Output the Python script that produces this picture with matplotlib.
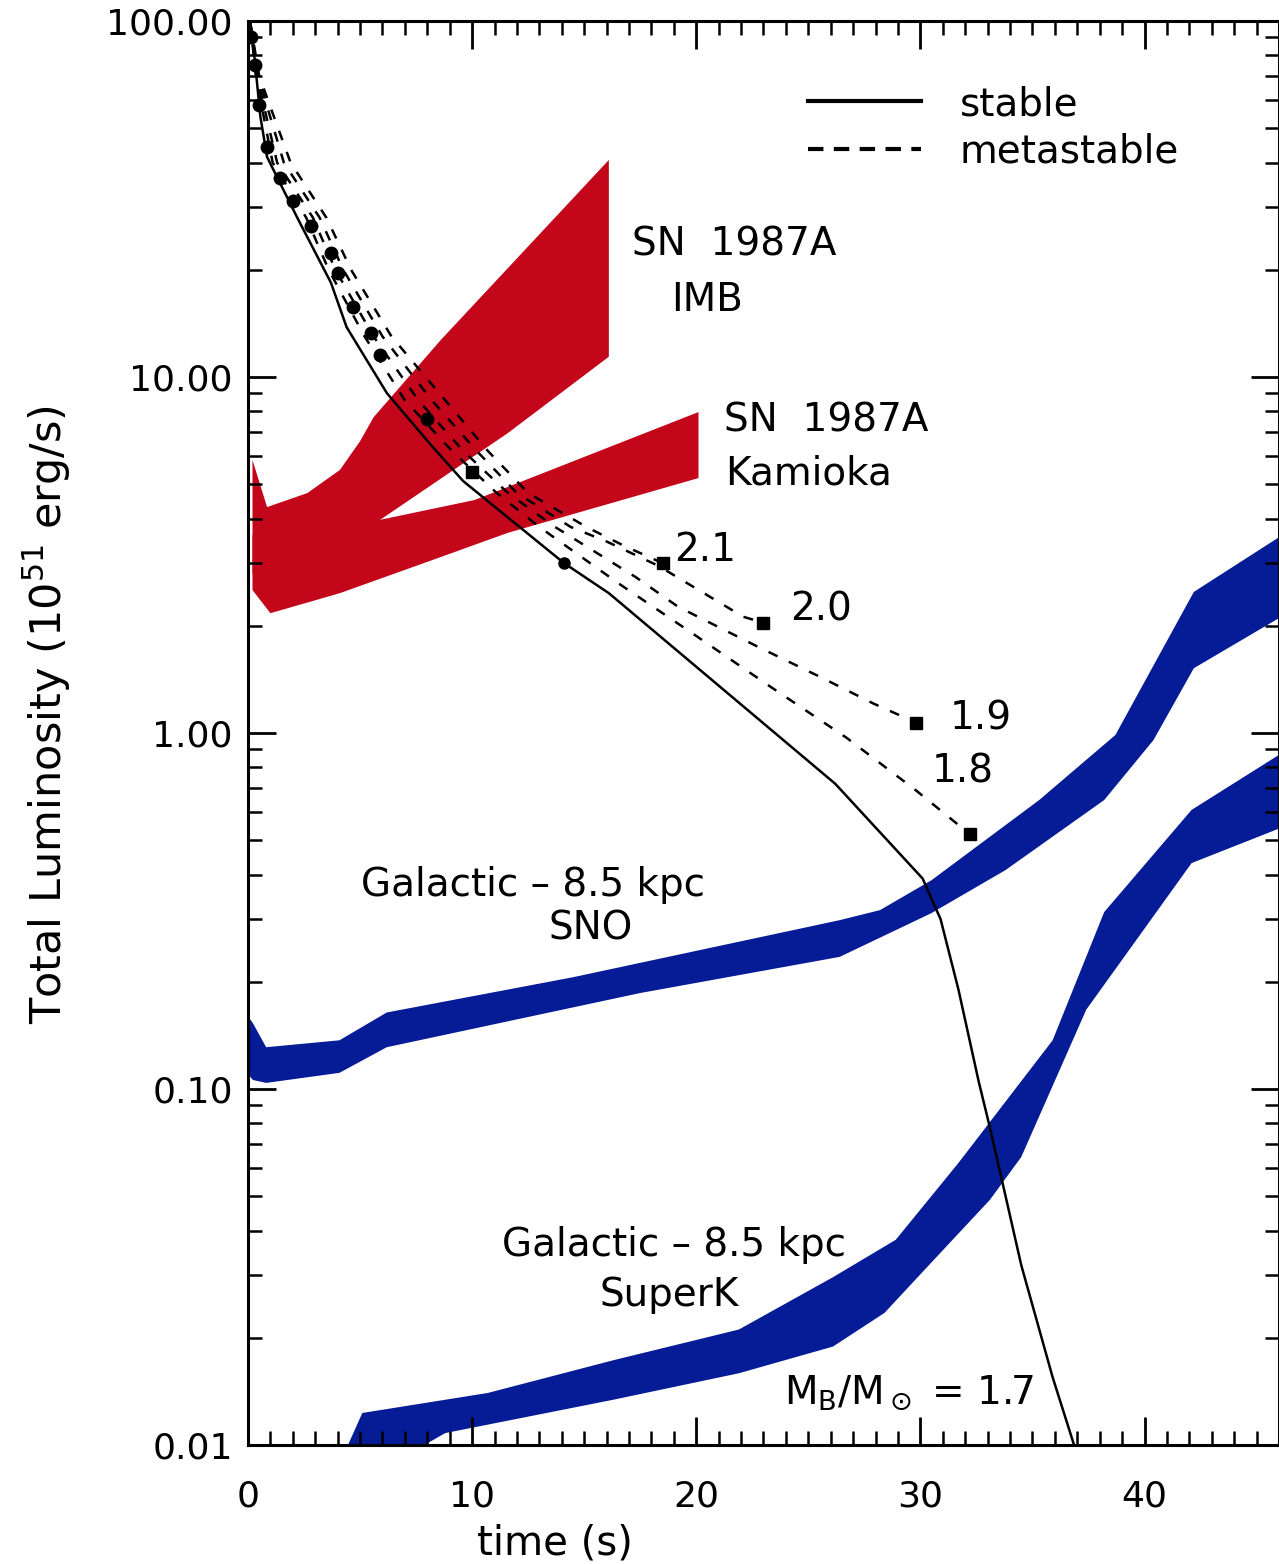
import matplotlib.pyplot as plt
from matplotlib.lines import Line2D
from matplotlib.ticker import MultipleLocator, LogLocator, FormatStrFormatter, NullFormatter

# stable star, M_B/M_sun = 1.7
t_stable = [0.1, 0.3, 0.55, 0.85, 2.2, 3.7, 4.4, 6.2, 8.2, 9.6, 14.1, 16.1, 26.2, 30.1,
            30.9, 31.7, 32.6, 33.1, 33.8, 34.5, 35.9, 36.9]
L_stable = [99, 78, 54, 41.5, 28, 18.4, 13.8, 9.0, 6.4, 5.1, 3.0, 2.47, 0.72, 0.39,
            0.30, 0.19, 0.105, 0.078, 0.05, 0.032, 0.0155, 0.0098]

# metastable stars (collapse to black hole at the last point)
t_m18 = [0.1, 0.35, 1.1, 2.6, 3.6, 5.2, 7.0, 9.1, 11.1, 13.0, 16.5, 19.8, 23.3, 26.7, 29.8, 32.2]
L_m18 = [99, 70, 40, 28, 20, 13, 8.6, 6.2, 4.72, 3.79, 2.64, 1.91, 1.35, 0.97, 0.69, 0.52]
t_m19 = [0.1, 0.4, 1.3, 2.9, 3.9, 5.6, 7.6, 9.6, 11.6, 13.7, 17.3, 19.2, 22.8, 25.5, 27.9, 29.8]
L_m19 = [99, 70, 40, 28, 20, 13, 8.6, 6.2, 4.72, 3.79, 2.74, 2.26, 1.74, 1.44, 1.21, 1.07]
t_m20 = [0.1, 0.45, 1.6, 3.2, 4.25, 6.0, 8.2, 10.2, 12.0, 14.4, 16.0, 18.3, 20.2, 22.1, 23.0]
L_m20 = [99, 70, 40, 28, 20, 13, 8.6, 6.2, 4.72, 3.79, 3.45, 2.95, 2.5, 2.12, 2.04]
t_m21 = [0.1, 0.5, 1.9, 3.5, 4.6, 6.4, 8.8, 10.7, 12.5, 15.1, 16.8, 18.5]
L_m21 = [99, 70, 40, 28, 20, 13, 8.6, 6.2, 4.72, 3.79, 3.35, 3.0]
meta_labels = ["1.8", "1.9", "2.0", "2.1"]
meta_label_t = [30.5, 31.3, 24.2, 19.0]
meta_label_L = [0.78, 1.10, 2.22, 3.27]

# black hole formation of the early (stable) models
bh_t = [0.15, 0.3, 0.5, 0.85, 1.43, 2.0, 2.8, 3.7, 4.0, 4.7, 5.5, 5.9, 8.0]
bh_L = [90, 75, 58, 44.3, 36.3, 31.3, 26.5, 22.3, 19.6, 15.7, 13.3, 11.5, 7.6]

# SN 1987A IMB band
imb_t_hi = [0.2, 0.85, 2.65, 4.1, 5.0, 5.6, 8.6, 16.1]
imb_hi = [5.85, 4.31, 4.72, 5.48, 6.6, 7.7, 12.7, 40.7]
imb_t_lo = [0.2, 2.0, 5.9, 11.6, 16.1]
imb_lo = [2.8, 3.0, 3.97, 6.96, 11.4]

# SN 1987A Kamioka band
kam_t_hi = [0.2, 5.9, 10.1, 20.1]
kam_hi = [3.6, 3.97, 4.51, 7.97]
kam_t_lo = [0.2, 1.0, 4.1, 8.6, 11.6, 20.1]
kam_lo = [2.52, 2.17, 2.47, 3.12, 3.65, 5.2]

# Galactic 8.5 kpc, SNO
sno_t_hi = [0.0, 0.22, 0.81, 4.08, 6.19, 14.5, 26.4, 28.2, 30.5, 35.3, 38.7, 42.2, 46.1]
sno_hi = [0.16, 0.153, 0.131, 0.137, 0.164, 0.206, 0.298, 0.318, 0.386, 0.648, 0.987, 2.49, 3.58]
sno_t_lo = [0.0, 0.22, 0.81, 4.08, 6.19, 17.5, 26.4, 30.5, 33.8, 38.2, 40.4, 42.2, 46.1]
sno_lo = [0.11, 0.106, 0.104, 0.111, 0.131, 0.186, 0.235, 0.312, 0.412, 0.648, 0.955, 1.52, 2.12]

# Galactic 8.5 kpc, SuperK
sk_t_hi = [4.4, 5.1, 10.7, 16.3, 21.9, 26.1, 28.9, 31.7, 35.9, 38.2, 42.1, 46.2]
sk_hi = [0.0098, 0.0123, 0.0140, 0.0173, 0.0211, 0.0296, 0.0377, 0.062, 0.137, 0.314, 0.608, 0.884]
sk_t_lo = [4.4, 8.8, 16.3, 21.9, 26.1, 28.4, 30.3, 33.1, 34.5, 37.4, 42.1, 46.2]
sk_lo = [0.0075, 0.0108, 0.0134, 0.0159, 0.0189, 0.0235, 0.0316, 0.0488, 0.0644, 0.167, 0.431, 0.545]

red = '#C4061A'
blue = '#061C96'

fig = plt.figure(figsize=(12.79, 15.64), dpi=100)
ax = fig.add_axes([0.1939, 0.0761, 0.8061, 0.9105])
ax.set_yscale('log')


def band(t_hi, hi, t_lo, lo, color):
    ax.fill(list(t_hi) + list(t_lo[::-1]), list(hi) + list(lo[::-1]),
            color=color, lw=0, zorder=1)


band(imb_t_hi, imb_hi, imb_t_lo, imb_lo, red)
band(kam_t_hi, kam_hi, kam_t_lo, kam_lo, red)
band(sno_t_hi, sno_hi, sno_t_lo, sno_lo, blue)
band(sk_t_hi, sk_hi, sk_t_lo, sk_lo, blue)

dash = (0, (4, 5))
ax.plot(t_stable, L_stable, color='k', lw=1.8, zorder=3)
ax.plot(t_stable[10], L_stable[10], 'o', color='k', ms=8, zorder=4)
for tt, LL in [(t_m18, L_m18), (t_m19, L_m19), (t_m20, L_m20), (t_m21, L_m21)]:
    ax.plot(tt, LL, color='k', lw=1.8, ls=dash, zorder=3)
    ax.plot(tt[-1], LL[-1], 's', color='k', ms=8, zorder=4)
ax.plot(bh_t, bh_L, 'o', color='k', ms=9, mfc='k', zorder=4, ls='none')
ax.plot(10.0, 5.4, 's', color='k', ms=8, zorder=4)

for lab, x, y in zip(meta_labels, meta_label_t, meta_label_L):
    ax.text(x, y, lab, fontsize=28, ha='left', va='center')

ax.text(21.7, 23.5, 'SN  1987A', fontsize=28, ha='center', va='center')
ax.text(20.5, 16.5, 'IMB', fontsize=28, ha='center', va='center')
ax.text(25.8, 7.57, 'SN  1987A', fontsize=28, ha='center', va='center')
ax.text(25.0, 5.37, 'Kamioka', fontsize=28, ha='center', va='center')
ax.text(12.7, 0.374, 'Galactic – 8.5 kpc', fontsize=28, ha='center', va='center')
ax.text(15.3, 0.283, 'SNO', fontsize=28, ha='center', va='center')
ax.text(19.0, 0.0365, 'Galactic – 8.5 kpc', fontsize=28, ha='center', va='center')
ax.text(18.8, 0.0264, 'SuperK', fontsize=28, ha='center', va='center')
ax.text(29.5, 0.014, r'M$_\mathrm{B}$/M$_\odot$ = 1.7', fontsize=28, ha='center', va='center')

handles = [Line2D([], [], color='k', lw=3),
           Line2D([], [], color='k', lw=3, ls=(0, (3.7, 2.5)))]
ax.legend(handles, ['stable', 'metastable'], loc='upper left', bbox_to_anchor=(0.543, 0.955),
          frameon=False, fontsize=28, handlelength=2.9, handletextpad=1.0,
          labelspacing=0.25, borderpad=0, borderaxespad=0)

ax.set_xlim(0, 46.0)
ax.set_ylim(0.01, 100)
ax.xaxis.set_major_locator(MultipleLocator(10))
ax.xaxis.set_minor_locator(MultipleLocator(1))
ax.yaxis.set_major_locator(LogLocator(base=10))
ax.yaxis.set_minor_locator(LogLocator(base=10, subs=range(2, 10)))
ax.yaxis.set_major_formatter(FormatStrFormatter('%.2f'))
ax.yaxis.set_minor_formatter(NullFormatter())
ax.tick_params(which='both', direction='in', top=True, right=True)
ax.tick_params(which='major', length=20, width=2)
ax.tick_params(which='minor', length=10, width=1.8)
ax.tick_params(axis='x', which='major', labelsize=26, pad=25)
ax.tick_params(axis='y', which='major', labelsize=26, pad=11)
for s in ax.spines.values():
    s.set_linewidth(2.2)

ax.set_xlabel('time (s)', fontsize=29)
ax.xaxis.set_label_coords(0.298, -0.055)
ax.set_ylabel(r'Total Luminosity (10$^{51}$ erg/s)', fontsize=31)
ax.yaxis.set_label_coords(-0.170, 0.513)

fig.savefig('out.png', dpi=100)
